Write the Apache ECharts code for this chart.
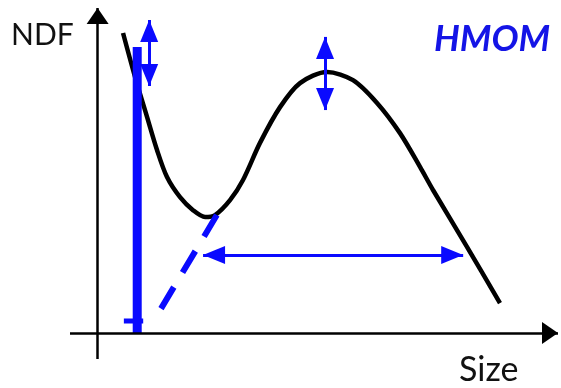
<!DOCTYPE html>
<html>
<head>
<meta charset="utf-8">
<script src="https://cdn.jsdelivr.net/npm/echarts@6/dist/echarts.min.js"></script>
<style>
  html, body { margin: 0; padding: 0; background: #ffffff; }
  #chart { width: 561px; height: 388px; }
</style>
</head>
<body>
<div id="chart"></div>
<script>
// Number density function (NDF) over particle size, arbitrary units
const sizeValues = [5.52, 8.12, 10.73, 12.90, 15.07, 17.90, 20.72, 23.33, 25.50, 28.76, 31.58, 35.27, 39.62, 43.96, 49.83, 55.47, 60.69, 65.68, 70.03, 72.85, 80.23, 87.40];
const ndfValues  = [92.3, 78.8, 66.5, 56.3, 48.0, 41.8, 37.8, 35.7, 36.3, 40.9, 47.1, 58.5, 69.5, 76.9, 80.3, 77.8, 70.8, 61.5, 51.1, 44.0, 26.5, 9.2];

// Delta node (nucleus class) at small size
const deltaSize = [8.6];
const deltaHeight = [88.0];
const deltaCapSpan = [5.7, 9.9];
const deltaCapLevel = [3.7];

// Weight-variation arrows: [size, low, high]
const deltaWeightArrow = [11.2, 76.0, 96.3];
const peakWeightArrow = [49.4, 68.6, 91.1];

// Continuous part extension (dashed) from the minimum towards the axis
const dashSize = [25.9, 13.6];
const dashNdf = [36.3, 7.1];

// Spread of the continuous distribution: [left, right, level]
const spreadArrow = [22.9, 79.4, 24.0];

// Axes extents
const xRange = [-6, 100];
const yRange = [-8, 100];

const BLUE = '#0a0aff';
const BLACK = '#000000';

const curveData = sizeValues.map((s, i) => [s, ndfValues[i]]);

// A straight segment with triangular heads whose tips sit on the end points
function arrowLine(p1, p2, color, width, heads, headSize, z) {
  const tipShift = [0, headSize[1] / 2];
  return {
    type: 'line',
    data: [],
    z: z,
    markLine: {
      silent: true,
      animation: false,
      symbol: heads,
      symbolSize: headSize,
      symbolOffset: [tipShift, tipShift],
      label: { show: false },
      lineStyle: { color: color, width: width, type: 'solid' },
      itemStyle: { color: color },
      emphasis: { disabled: true },
      data: [[{ coord: p1 }, { coord: p2 }]]
    }
  };
}

const option = {
  backgroundColor: '#ffffff',
  animation: false,
  grid: { left: 70, right: 3, top: 8, bottom: 29, containLabel: false },
  xAxis: {
    type: 'value', min: xRange[0], max: xRange[1],
    axisLine: { show: false }, axisTick: { show: false },
    axisLabel: { show: false }, splitLine: { show: false }
  },
  yAxis: {
    type: 'value', min: yRange[0], max: yRange[1],
    axisLine: { show: false }, axisTick: { show: false },
    axisLabel: { show: false }, splitLine: { show: false }
  },
  graphic: [
    { type: 'text', left: 11, top: 20,
      style: { text: 'NDF', font: '30px Lato', fill: '#111111' } },
    { type: 'text', left: 459, top: 353,
      style: { text: 'Size', font: '34px Lato', fill: '#111111' } },
    { type: 'text', left: 434, top: 21,
      style: { text: 'HMOM', font: 'italic bold 36px Lato', fill: '#1414e6' } }
  ],
  series: [
    // axes with arrowheads
    arrowLine([0, yRange[0]], [0, yRange[1]], BLACK, 2.5, ['none', 'triangle'], [22, 16], 1),
    arrowLine([xRange[0], 0], [xRange[1], 0], BLACK, 2.5, ['none', 'triangle'], [22, 16], 1),
    // NDF curve
    {
      type: 'line',
      data: curveData,
      smooth: 0.3,
      showSymbol: false,
      lineStyle: { color: BLACK, width: 4.5 },
      z: 2
    },
    // dashed extension
    {
      type: 'line',
      data: dashSize.map((s, i) => [s, dashNdf[i]]),
      showSymbol: false,
      lineStyle: { color: BLUE, width: 6, type: [25, 17], cap: 'butt' },
      z: 3
    },
    // delta node bar
    {
      type: 'line',
      data: [[deltaSize[0], 0], [deltaSize[0], deltaHeight[0]]],
      showSymbol: false,
      lineStyle: { color: BLUE, width: 9, cap: 'butt' },
      z: 4
    },
    {
      type: 'line',
      data: deltaCapSpan.map(s => [s, deltaCapLevel[0]]),
      showSymbol: false,
      lineStyle: { color: BLUE, width: 5, cap: 'butt' },
      z: 4
    },
    // weight-variation double arrows
    arrowLine([deltaWeightArrow[0], deltaWeightArrow[1]], [deltaWeightArrow[0], deltaWeightArrow[2]],
      BLUE, 3, ['triangle', 'triangle'], [18, 22], 5),
    arrowLine([peakWeightArrow[0], peakWeightArrow[1]], [peakWeightArrow[0], peakWeightArrow[2]],
      BLUE, 3, ['triangle', 'triangle'], [18, 22], 5),
    // spread double arrow
    arrowLine([spreadArrow[0], spreadArrow[2]], [spreadArrow[1], spreadArrow[2]],
      BLUE, 3, ['triangle', 'triangle'], [18, 22], 5)
  ]
};

const chart = echarts.init(document.getElementById('chart'), null, { renderer: 'canvas' });
chart.setOption(option);
</script>
</body>
</html>
